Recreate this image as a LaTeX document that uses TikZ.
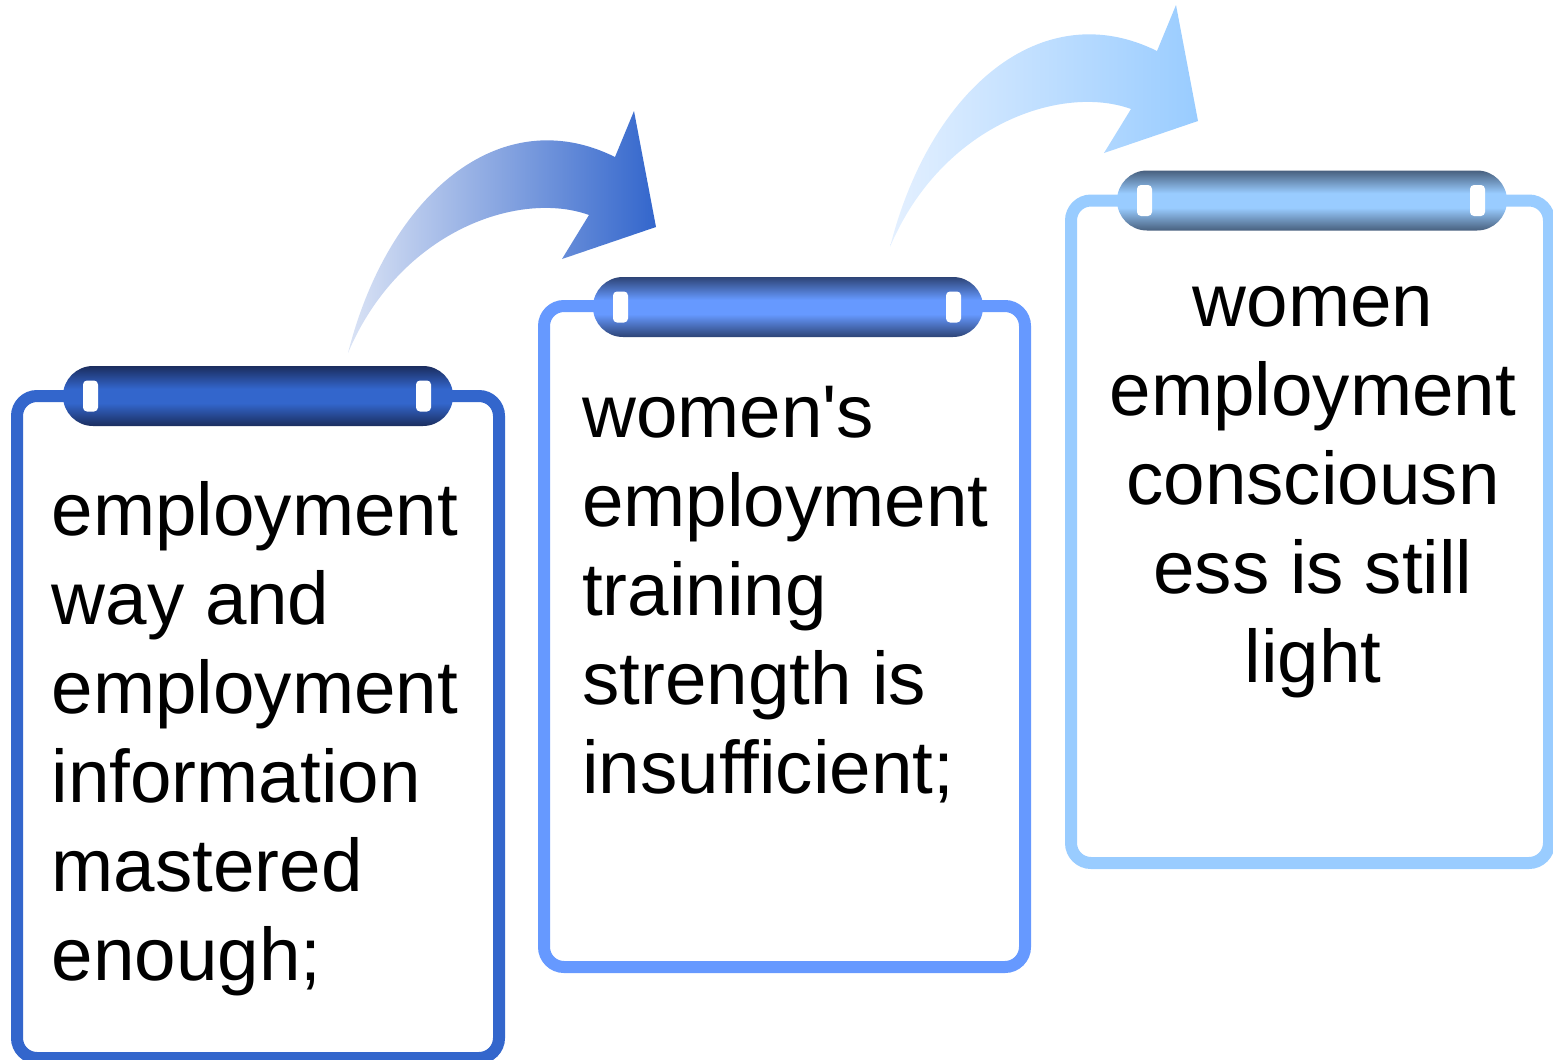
\documentclass[tikz,border=0pt]{standalone}
\usepackage{fontspec}
\setmainfont{Liberation Sans}
\definecolor{dkA}{RGB}{27,45,94}
\definecolor{mdA}{HTML}{3366CC}
\definecolor{dkB}{RGB}{45,68,118}
\definecolor{mdB}{HTML}{6699FF}
\definecolor{dkC}{RGB}{72,96,126}
\definecolor{mdC}{HTML}{99CCFF}
\definecolor{arA}{RGB}{218,227,245}
\definecolor{arB}{RGB}{228,240,255}
\pgfdeclareverticalshading{tabA}{100bp}{color(0bp)=(dkA); color(25bp)=(dkA); color(44bp)=(mdA); color(56bp)=(mdA); color(75bp)=(dkA); color(100bp)=(dkA)}
\pgfdeclareverticalshading{tabB}{100bp}{color(0bp)=(dkB); color(25bp)=(dkB); color(44bp)=(mdB); color(56bp)=(mdB); color(75bp)=(dkB); color(100bp)=(dkB)}
\pgfdeclareverticalshading{tabC}{100bp}{color(0bp)=(dkC); color(25bp)=(dkC); color(44bp)=(mdC); color(56bp)=(mdC); color(75bp)=(dkC); color(100bp)=(dkC)}
\tikzset{
  cardbox/.style={draw, line width=12pt, fill=white, rounded corners=20pt, inner sep=0pt},
  tabbar/.style={shade, rounded corners=30pt, minimum width=390pt, minimum height=60pt, inner sep=0pt},
  hole/.style={fill=white, rounded corners=4pt, minimum width=15pt, minimum height=31pt, inner sep=0pt},
  cardtext/.style={inner sep=0pt, font=\fontsize{74.6}{89}\selectfont}
}
\begin{document}
\begin{tikzpicture}[x=1pt,y=-1pt]
\useasboundingbox (0,0) rectangle (1553,1060);
% arrows
\shade[left color=arA, right color=mdA]
  (348,353) .. controls (388,195) and (500,100) .. (615,157)
  -- (634,111) -- (656,227) -- (562,259) -- (589,215)
  .. controls (520,190) and (400,230) .. (348,353) -- cycle;
\begin{scope}[shift={(542,-106)}]
\shade[left color=arB, right color=mdC]
  (348,353) .. controls (388,195) and (500,100) .. (615,157)
  -- (634,111) -- (656,227) -- (562,259) -- (589,215)
  .. controls (520,190) and (400,230) .. (348,353) -- cycle;
\end{scope}
% cards
\node[cardbox, draw=mdA, minimum width=482pt, minimum height=662pt] (c1) at (258,727) {};
\node[cardbox, draw=mdB, minimum width=481pt, minimum height=661pt] (c2) at (784.5,636.5) {};
\node[cardbox, draw=mdC, minimum width=478pt, minimum height=662.5pt] (c3) at (1310,531.75) {};
% tabs
\node[tabbar, shading=tabA] (t1) at (258,396) {};
\node[tabbar, shading=tabB] (t2) at (788,307) {};
\node[tabbar, shading=tabC] (t3) at (1312,200.5) {};
\node[hole] (h1a) at (90.5,396) {};
\node[hole] (h1b) at (423.5,396) {};
\node[hole] (h2a) at (620.5,307) {};
\node[hole] (h2b) at (953.5,307) {};
\node[hole] (h3a) at (1144.5,200.5) {};
\node[hole] (h3b) at (1477.5,200.5) {};
% texts
\node[cardtext, anchor=base west] (x1) at (51.5,535)
  {\parbox[t]{460pt}{\raggedright employment\\way and\\employment\\information\\mastered\\enough;}};
\node[cardtext, anchor=base west] (x2) at (582,437)
  {\parbox[t]{440pt}{\raggedright women\textquotesingle s\\employment\\training\\strength is\\insufficient;}};
\node[cardtext, anchor=base] (x3) at (1313,326)
  {\parbox[t]{470pt}{\centering women\\employment\\consciousn\\ess is still\\light}};
\end{tikzpicture}
\end{document}
